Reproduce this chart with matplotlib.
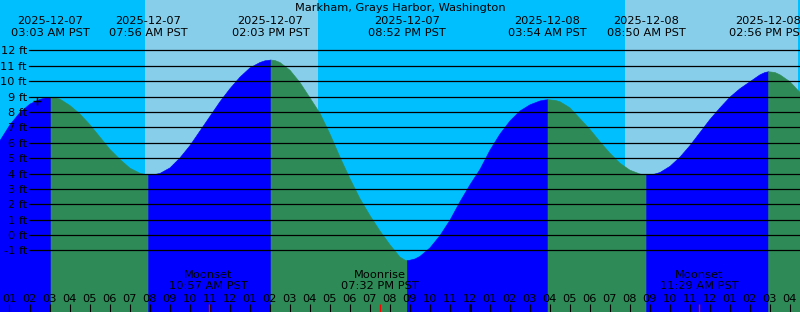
import matplotlib
matplotlib.use('Agg')
import matplotlib.pyplot as plt
from matplotlib.transforms import blended_transform_factory, offset_copy

NIGHT = '#00BFFF'
DAY = '#87CEEB'
RISING = '#0000FF'
FALLING = '#2E8B57'
MOON_TICK = '#FF0000'

W, H = 800, 312
FS = 8.2

plt.rcParams['font.family'] = ['DejaVu Sans']

TITLE = 'Markham, Grays Harbor, Washington'

# hours counted from 2025-12-07 00:00 PST
EXTREME_HOURS = [3.05, 7.933, 14.05, 20.867, 27.9, 32.833, 38.933]
EXTREME_FEET = [8.98, 3.94, 11.41, -1.63, 8.83, 3.94, 10.65]
EXTREME_DATES = ['2025-12-07', '2025-12-07', '2025-12-07', '2025-12-07',
                 '2025-12-08', '2025-12-08', '2025-12-08']
EXTREME_TIMES = ['03:03 AM PST', '07:56 AM PST', '02:03 PM PST', '08:52 PM PST',
                 '03:54 AM PST', '08:50 AM PST', '02:56 PM PST']

# tide height (half hours, quarter hours near the turns)
TIDE_HOURS = [0.5, 1.0, 1.5, 2.0, 2.5, 2.75, 3.25, 3.5, 4.0, 4.5, 5.0, 5.5, 6.0, 6.5, 7.0, 7.5, 7.75,
              8.25, 8.5, 9.0, 9.5, 10.0, 10.5, 11.0, 11.5, 12.0, 12.5, 13.0, 13.5, 13.75,
              14.25, 14.5, 15.0, 15.5, 16.0, 16.5, 17.0, 17.5, 18.0, 18.5, 19.0, 19.5, 20.0, 20.25,
              20.5, 20.75,
              21.0, 21.25, 21.5, 22.0, 22.5, 23.0, 23.5, 24.0, 24.5, 25.0, 25.5, 26.0, 26.5, 27.0,
              27.5, 27.75,
              28.25, 28.5, 29.0, 29.5, 30.0, 30.5, 31.0, 31.5, 32.0, 32.5, 32.75,
              33.0, 33.25, 33.5, 34.0, 34.5, 35.0, 35.5, 36.0, 36.5, 37.0, 37.5, 38.0, 38.5, 38.75,
              39.25, 39.5, 40.0, 40.5]
TIDE_FEET = [6.17, 7.2, 8.0, 8.55, 8.85, 8.94, 8.95, 8.87, 8.45, 7.9, 7.2, 6.4, 5.6, 4.95, 4.38, 4.05, 3.97,
             3.97, 4.04, 4.4, 5.05, 5.85, 6.8, 7.75, 8.7, 9.55, 10.3, 10.9, 11.25, 11.36,
             11.38, 11.25, 10.75, 9.95, 8.95, 7.95, 6.6, 5.1, 3.7, 2.4, 1.3, 0.3, -0.6, -1.0,
             -1.4, -1.6,
             -1.6, -1.52, -1.35, -0.8, 0.0, 1.0, 2.2, 3.3, 4.3, 5.55, 6.6, 7.45, 8.1, 8.5,
             8.75, 8.81,
             8.79, 8.7, 8.3, 7.6, 6.9, 6.1, 5.35, 4.7, 4.25, 4.0, 3.95,
             3.95, 4.0, 4.1, 4.5, 5.1, 5.85, 6.7, 7.55, 8.3, 9.0, 9.55, 10.0, 10.45, 10.6,
             10.6, 10.45, 10.0, 9.3]

SUNRISE_HOURS = [7.775, 31.775]
SUNSET_HOURS = [16.425, 40.41]

MOON_HOURS = [10.95, 19.533, 35.483]
MOON_EVENTS = ['Moonset', 'Moonrise', 'Moonset']
MOON_TIMES = ['10:57 AM PST', '07:32 PM PST', '11:29 AM PST']

NOW_HOUR = 2.35
NOW_FEET = 8.72

GRID_FEET = list(range(-1, 13))
HOUR_TICKS = list(range(1, 41))
MIDNIGHT = 24

X_RANGE = (0.525, 40.525)
Y_RANGE = (-5.0, 15.28)


def fy(py):
    # pixel row from the top -> axes fraction
    return 1 - py / H


def hour_label(h):
    hh = h % 12
    return f'{12 if hh == 0 else hh:02d}'


def plot():
    fig = plt.figure(figsize=(W / 100, H / 100), dpi=100)
    ax = fig.add_axes([0, 0, 1, 1])
    ax.set_xlim(*X_RANGE)
    ax.set_ylim(*Y_RANGE)
    ax.set_facecolor(NIGHT)
    ax.set_xticks([])
    ax.set_yticks([])
    for s in ax.spines.values():
        s.set_visible(False)

    for rise, sset in zip(SUNRISE_HOURS, SUNSET_HOURS):
        ax.axvspan(rise, sset, color=DAY, lw=0, zorder=0)

    pts = sorted(zip(TIDE_HOURS + EXTREME_HOURS, TIDE_FEET + EXTREME_FEET))
    bounds = [TIDE_HOURS[0]] + EXTREME_HOURS + [TIDE_HOURS[-1]]
    for a, b in zip(bounds[:-1], bounds[1:]):
        seg = [(t, f) for t, f in pts if a <= t <= b]
        ts = [p[0] for p in seg]
        fs = [p[1] for p in seg]
        color = RISING if fs[-1] > fs[0] else FALLING
        ax.fill_between(ts, fs, Y_RANGE[0] - 1, color=color, lw=0.4, zorder=1)

    for ft in GRID_FEET:
        ax.axhline(ft, xmin=29 / W, xmax=1, color='black', lw=0.9, zorder=2)

    ylab = offset_copy(blended_transform_factory(ax.transAxes, ax.transData), fig=fig, y=-4, units='dots')
    for ft in GRID_FEET:
        ax.text(27 / W, ft, f'{ft} ft', transform=ylab, ha='right', va='baseline', fontsize=FS, zorder=3)

    ax.plot([NOW_HOUR], [NOW_FEET], marker='+', color='black', ms=6, mew=1, zorder=4)

    top = blended_transform_factory(ax.transData, ax.transAxes)
    ax.text(0.5, fy(11), TITLE, transform=ax.transAxes, ha='center', va='baseline', fontsize=FS)
    for h, d, t in zip(EXTREME_HOURS, EXTREME_DATES, EXTREME_TIMES):
        ax.text(h, fy(24), d, transform=top, ha='center', va='baseline', fontsize=FS, zorder=3)
        ax.text(h, fy(35.7), t, transform=top, ha='center', va='baseline', fontsize=FS, zorder=3)

    for h, ev, t in zip(MOON_HOURS, MOON_EVENTS, MOON_TIMES):
        ax.text(h, fy(278), ev, transform=top, ha='center', va='baseline', fontsize=FS, zorder=3)
        ax.text(h, fy(289.3), t, transform=top, ha='center', va='baseline', fontsize=FS, zorder=3)

    for h in HOUR_TICKS:
        ax.text(h, fy(301.7), hour_label(h), transform=top, ha='center', va='baseline', fontsize=FS, zorder=3)
    ax.vlines(HOUR_TICKS, 0, fy(304.3), transform=top, color='black', lw=0.8, zorder=3)
    ax.vlines([MIDNIGHT], 0, fy(304.3), transform=top, color='black', lw=2.0, zorder=3)
    ax.vlines(MOON_HOURS, 0, fy(304.3), transform=top, color=MOON_TICK, lw=1.0, zorder=3)

    fig.savefig('out.png', dpi=100)


if __name__ == '__main__':
    plot()
